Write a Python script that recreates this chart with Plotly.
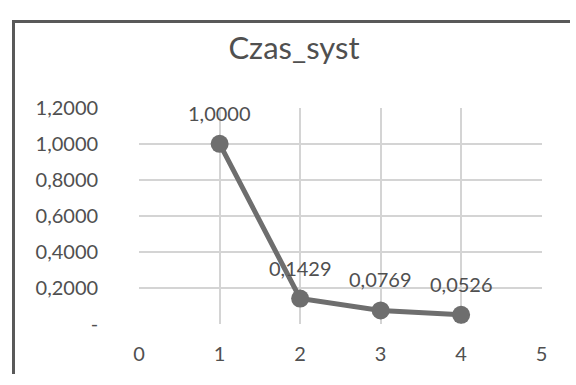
import plotly.graph_objects as go

# Data
x_vals = [1, 2, 3, 4]
y_vals = [1.0000, 0.1429, 0.0769, 0.0526]
title_text = "Czas_syst"
y_tickvals = [0, 0.2, 0.4, 0.6, 0.8, 1.0, 1.2]
y_ticktext = ["-", "0,2000", "0,4000", "0,6000", "0,8000", "1,0000", "1,2000"]
x_tickvals = [0, 1, 2, 3, 4, 5]
x_ticktext = ["0", "1", "2", "3", "4", "5"]
point_labels = [f"{v:.4f}".replace(".", ",") for v in y_vals]

FONT = "Lato"
GRAY_TXT = "#505050"
LINE_COL = "#6e6e6e"
GRID = "#d4d4d4"
FRAME = "#595959"

W, H = 576, 385
PL, PR, PT, PB = 136, 547, 101, 332   # plot area in pixels

fig = go.Figure()
fig.add_trace(go.Scatter(
    x=x_vals, y=y_vals, mode="lines+markers",
    line=dict(color=LINE_COL, width=5),
    marker=dict(color=LINE_COL, size=18),
    hoverinfo="skip", showlegend=False,
))

# invisible trace on a full-page subplot whose axis lines draw the chart frame
fig.add_trace(go.Scatter(
    x=[0.5], y=[0.5], mode="markers", marker=dict(opacity=0),
    xaxis="x2", yaxis="y2", hoverinfo="skip", showlegend=False,
))

for xv, yv, lab in zip(x_vals, y_vals, point_labels):
    fig.add_annotation(x=xv, y=yv, text=lab, showarrow=False, yshift=31,
                       font=dict(family=FONT, size=20, color=GRAY_TXT))

fig.update_layout(
    width=W, height=H,
    margin=dict(l=0, r=0, t=0, b=0),
    paper_bgcolor="white", plot_bgcolor="rgba(0,0,0,0)",
    title=dict(text=title_text, x=294 / W, xref="container", xanchor="center",
               y=1 - 48 / H, yref="container", yanchor="middle",
               font=dict(family=FONT, size=31, color=GRAY_TXT)),
    font=dict(family=FONT, size=20, color=GRAY_TXT),
    xaxis=dict(domain=[PL / W, PR / W], anchor="y",
               range=[0, 5], tickvals=x_tickvals, ticktext=x_ticktext,
               showgrid=True, gridcolor=GRID, gridwidth=1.5, zeroline=False,
               showline=False, ticks="", ticklabelstandoff=16,
               tickfont=dict(family=FONT, size=20, color=GRAY_TXT)),
    yaxis=dict(domain=[(H - PB) / H, (H - PT) / H], anchor="x",
               range=[0, 1.2], tickvals=y_tickvals, ticktext=y_ticktext,
               showgrid=True, gridcolor=GRID, gridwidth=1.5, zeroline=False,
               showline=False, ticks="", ticklabelstandoff=40,
               tickfont=dict(family=FONT, size=20, color=GRAY_TXT)),
    xaxis2=dict(domain=[9 / W, 1], anchor="y2", side="top", range=[0, 1],
                showline=True, linecolor=FRAME, linewidth=2.5,
                showgrid=False, zeroline=False, showticklabels=False, ticks=""),
    yaxis2=dict(domain=[0, (H - 10.5) / H], anchor="x2", side="left", range=[0, 1],
                showline=True, linecolor=FRAME, linewidth=2.5,
                showgrid=False, zeroline=False, showticklabels=False, ticks=""),
)

fig.write_html("out.html")
